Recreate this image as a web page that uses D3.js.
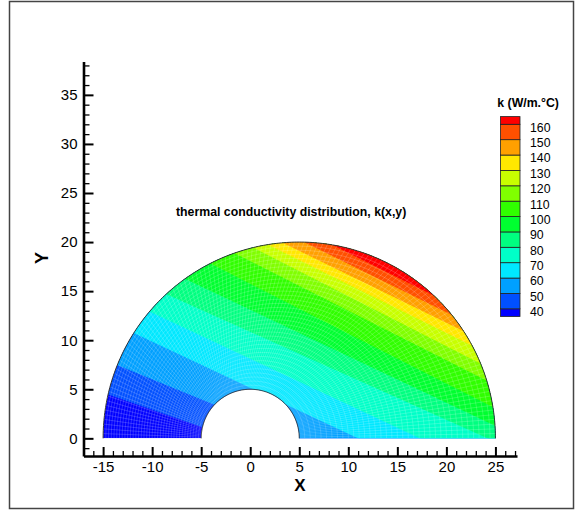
<!DOCTYPE html>
<html>
<head>
<meta charset="utf-8">
<script src="https://cdn.jsdelivr.net/npm/d3@7"></script>
<style>
  body { margin: 0; background: #fff; }
  svg { display: block; }
  text { font-family: "Liberation Sans", Arial, Helvetica, sans-serif; }
</style>
</head>
<body>
<svg id="chart" width="576" height="513"></svg>
<script>
// Contour levels of k (W/m.°C); the first band lies below the first level.
const levels = [40, 50, 60, 70, 80, 90, 100, 110, 120, 130, 140, 150, 160];
const bandColors = ["#0000ff", "#0050ff", "#00a0ff", "#00e8ff", "#00ffc8", "#00ff80",
                    "#00ff30", "#30ff00", "#80ff00", "#c8ff00", "#ffe800", "#ffa000",
                    "#ff5000", "#ff0000"];
// Where each contour line leaves the domain: left end and right end, (x, y).
const contourLeft = [[-14.8, 4.56], [-13.95, 7.62], [-11.9, 10.74], [-10.2, 12.89],
                     [-8.34, 14.59], [-6.53, 16.19], [-4.08, 17.83], [-1.7, 18.91],
                     [0.3, 19.44], [1.8, 19.74], [3.3, 19.93], [5.5, 19.99], [8.3, 19.75]];
const contourRight = [[-5.1, 1.2], [5.0, -0.1], [11.0, 0], [17.3, 0],
                      [24.2, 0], [24.9, 1.3], [24.7, 3.2], [24.1, 5.9],
                      [23.5, 7.6], [22.5, 9.5], [21.6, 11.0], [20.3, 12.7], [18.0, 14.9]];
const xTicks = [-15, -10, -5, 0, 5, 10, 15, 20, 25];
const yTicks = [0, 5, 10, 15, 20, 25, 30, 35];

// Domain: half of an eccentric annulus (outer circle centre (5,0) r=20, inner hole centre (0,0) r=5)
const outerC = [5, 0], outerR = 20, innerC = [0, 0], innerR = 5;

const svg = d3.select("#chart");
const x = d3.scaleLinear().domain([-17, 27.2]).range([83.5, 517]);
const y = d3.scaleLinear().domain([-1.8, 38.4]).range([456, 61.5]);
const line = d3.line().x(d => x(d[0])).y(d => y(d[1]));

const outerPt = t => [outerC[0] + outerR * Math.cos(t), outerC[1] + outerR * Math.sin(t)];
const innerPt = t => [innerC[0] + innerR * Math.cos(t), innerC[1] + innerR * Math.sin(t)];

// frame
svg.append("rect").attr("x", 9.5).attr("y", 1.5).attr("width", 564).attr("height", 507)
  .attr("fill", "none").attr("stroke", "#444").attr("stroke-width", 1.5);

const N = 240;
const outerArc = d3.range(N + 1).map(i => outerPt(Math.PI * i / N));
const innerArc = d3.range(N + 1).map(i => innerPt(Math.PI * i / N));
const domainPts = outerArc.concat(innerArc.slice().reverse());

svg.append("defs").append("clipPath").attr("id", "dom")
  .append("path").attr("d", line(domainPts) + "Z");

const field = svg.append("g").attr("clip-path", "url(#dom)");
field.append("path").attr("d", line(domainPts) + "Z").attr("fill", bandColors[0]);

// each level paints the half-plane above its contour line
levels.forEach((L, i) => {
  const [x1, y1] = contourLeft[i], [x2, y2] = contourRight[i];
  const m = (y2 - y1) / (x2 - x1);
  const xa = -30, xb = 40;
  const pts = [[xa, y1 + m * (xa - x1)], [xb, y1 + m * (xb - x1)], [xb, 60], [xa, 60]];
  field.append("path").attr("d", line(pts) + "Z").attr("fill", bandColors[i + 1]);
});

// computational mesh
const nT = 130, nR = 36;
const mesh = field.append("g").attr("fill", "none").attr("stroke", "#fff")
  .attr("stroke-opacity", 0.3).attr("stroke-width", 0.6);
d3.range(nT + 1).forEach(i => {
  const t = Math.PI * i / nT;
  mesh.append("path").attr("d", line([innerPt(t), outerPt(t)]));
});
d3.range(1, nR).forEach(j => {
  const s = j / nR;
  const pts = d3.range(N + 1).map(i => {
    const t = Math.PI * i / N, a = innerPt(t), b = outerPt(t);
    return [a[0] + s * (b[0] - a[0]), a[1] + s * (b[1] - a[1])];
  });
  mesh.append("path").attr("d", line(pts));
});

// boundary arcs
svg.append("path").attr("d", line(outerArc)).attr("fill", "none").attr("stroke", "#333").attr("stroke-width", 1);
svg.append("path").attr("d", line(innerArc)).attr("fill", "none").attr("stroke", "#333").attr("stroke-width", 1);

// axes
const fmt = d => String(d);
function styleAxis(g, size, tickW) {
  g.selectAll("text").attr("font-size", size).attr("fill", "#000")
    .attr("font-family", "'Liberation Sans', Arial, Helvetica, sans-serif");
  g.selectAll(".tick line").attr("stroke", "#000").attr("stroke-width", tickW);
}
const xMinor = d3.range(-17, 28).filter(v => v % 5 !== 0);
const yMinor = d3.range(-1, 39).filter(v => v % 5 !== 0);

const gxm = svg.append("g").attr("transform", `translate(0,${y(-1.8)})`)
  .call(d3.axisBottom(x).tickValues(xMinor).tickSize(-5).tickSizeOuter(0).tickFormat(""));
gxm.select(".domain").remove();
styleAxis(gxm, 15, 1.3);
const gx = svg.append("g").attr("transform", `translate(0,${y(-1.8)})`)
  .call(d3.axisBottom(x).tickValues(xTicks).tickSize(-9).tickSizeOuter(0).tickPadding(5).tickFormat(fmt));
gx.select(".domain").attr("stroke", "#000").attr("stroke-width", 2.6);
styleAxis(gx, 15, 2);

const gym = svg.append("g").attr("transform", `translate(${x(-17)},0)`)
  .call(d3.axisLeft(y).tickValues(yMinor).tickSize(-6).tickSizeOuter(0).tickFormat(""));
gym.select(".domain").remove();
styleAxis(gym, 15, 1.3);
const gy = svg.append("g").attr("transform", `translate(${x(-17)},0)`)
  .call(d3.axisLeft(y).tickValues(yTicks).tickSize(-10).tickSizeOuter(0).tickPadding(6).tickFormat(fmt));
gy.select(".domain").attr("stroke", "#000").attr("stroke-width", 2.6);
styleAxis(gy, 15, 2);

// axis titles
svg.append("text").attr("x", 300).attr("y", 491).attr("text-anchor", "middle")
  .attr("font-size", 17).attr("font-weight", "bold").text("X");
svg.append("text").attr("transform", "translate(48,258) rotate(-90)").attr("text-anchor", "middle")
  .attr("font-size", 18).attr("font-weight", "bold").text("Y");

// plot title
svg.append("text").attr("x", 176).attr("y", 215.5)
  .attr("font-size", 12.3).attr("font-weight", "bold").text("thermal conductivity distribution, k(x,y)");

// colour legend
const ly = d3.scaleLinear().domain([35, 165]).range([316.5, 116.6]);
const edges = [35].concat(levels, [165]);
const leg = svg.append("g");
bandColors.forEach((c, i) => {
  leg.append("rect").attr("x", 500.5).attr("width", 19.5)
    .attr("y", ly(edges[i + 1])).attr("height", ly(edges[i]) - ly(edges[i + 1]))
    .attr("fill", c).attr("stroke", "#222").attr("stroke-width", 0.8);
});
levels.forEach(L => {
  leg.append("text").attr("x", 530).attr("y", ly(L) + 7.4).attr("font-size", 12.3).text(L);
});
leg.append("text").attr("x", 497.3).attr("y", 106.5)
  .attr("font-size", 12.3).attr("font-weight", "bold").text("k (W/m.°C)");
</script>
</body>
</html>
